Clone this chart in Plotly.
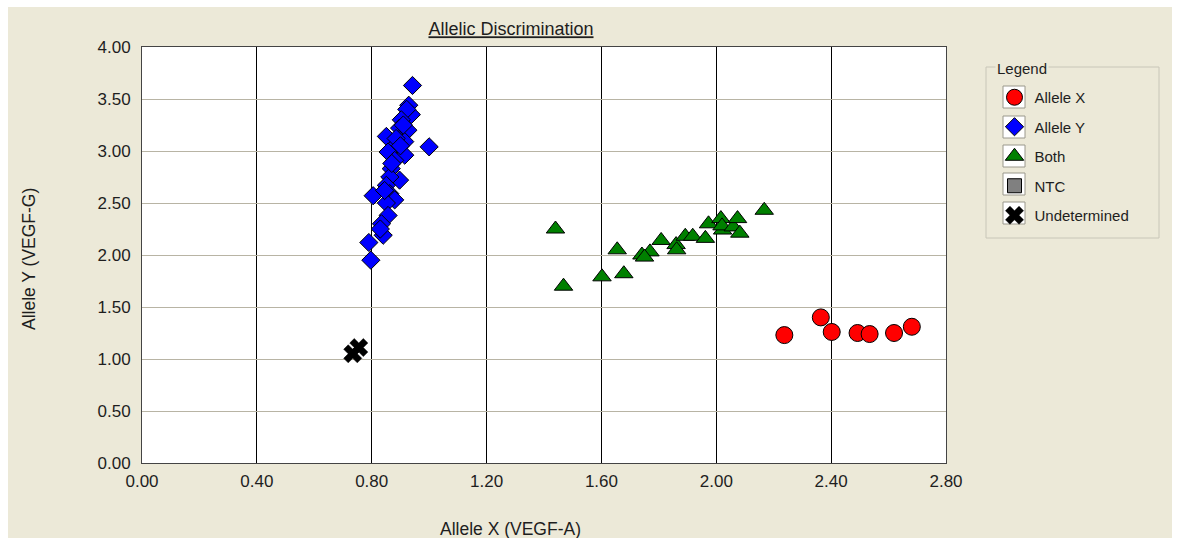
import plotly.graph_objects as go

# ---- data ----
allele_x_x = [2.237, 2.364, 2.402, 2.492, 2.534, 2.619, 2.681]
allele_x_y = [1.23, 1.40, 1.26, 1.25, 1.24, 1.25, 1.31]

allele_y_x = [0.942, 0.929, 0.938, 0.922, 0.903, 0.897, 0.926, 0.851, 0.915, 1.000,
              0.874, 0.857, 0.915, 0.880, 0.868, 0.897, 0.863, 0.851, 0.863, 0.805,
              0.880, 0.851, 0.857, 0.834, 0.840, 0.790, 0.797, 0.910, 0.885, 0.870,
              0.845, 0.900, 0.830]
allele_y_y = [3.63, 3.44, 3.35, 3.40, 3.30, 3.22, 3.20, 3.14, 3.09, 3.04,
              3.03, 2.99, 2.96, 2.91, 2.83, 2.72, 2.75, 2.67, 2.59, 2.57,
              2.53, 2.50, 2.38, 2.30, 2.19, 2.12, 1.95, 3.25, 3.12, 2.88,
              2.62, 3.05, 2.25]

both_x = [1.440, 1.468, 1.602, 1.655, 1.678, 1.741, 1.769, 1.808, 1.860, 1.862,
          1.892, 1.918, 1.962, 1.973, 2.016, 2.022, 2.020, 2.059, 2.074, 2.082,
          2.167, 1.750]
both_y = [2.25, 1.70, 1.79, 2.05, 1.82, 2.00, 2.03, 2.14, 2.10, 2.05,
          2.18, 2.18, 2.16, 2.30, 2.35, 2.24, 2.28, 2.27, 2.35, 2.21,
          2.43, 1.98]

ntc_x = [None]
ntc_y = [None]

undet_x = [0.734, 0.755]
undet_y = [1.05, 1.11]

x_ticks = [0.0, 0.4, 0.8, 1.2, 1.6, 2.0, 2.4, 2.8]
y_ticks = [0.0, 0.5, 1.0, 1.5, 2.0, 2.5, 3.0, 3.5, 4.0]

FONT = "Liberation Sans, Arial, sans-serif"
TXT = "#1e1e1e"
BEIGE = "#ECE9D8"

fig = go.Figure()
line = dict(color="black", width=1)
fig.add_trace(go.Scatter(x=allele_x_x, y=allele_x_y, mode="markers", name="Allele X",
                         legendgroup="a",
                         marker=dict(symbol="circle", size=17, color="#FF0000", line=line)))
fig.add_trace(go.Scatter(x=allele_y_x, y=allele_y_y, mode="markers", name="Allele Y",
                         legendgroup="b",
                         marker=dict(symbol="diamond", size=14, color="#0000FF", line=line)))
fig.add_trace(go.Scatter(x=both_x, y=both_y, mode="markers", name="Both",
                         legendgroup="c",
                         marker=dict(symbol="triangle-up", size=16, color="#008000", line=line)))
fig.add_trace(go.Scatter(x=ntc_x, y=ntc_y, mode="markers", name="NTC",
                         legendgroup="d",
                         marker=dict(symbol="square", size=14, color="#808080", line=line)))
fig.add_trace(go.Scatter(x=undet_x, y=undet_y, mode="markers", name="Undetermined",
                         legendgroup="e",
                         marker=dict(symbol="x", size=16, color="black",
                                     line=dict(color="black", width=0.5))))

# plot geometry in pixels
L, R, T, B = 142, 946, 47, 463
W, H = R - L, B - T

def px2paper_x(px):
    return (px - L) / W

def px2paper_y(py):
    return (B - py) / H

shapes = [
    # beige dialog background
    dict(type="rect", xref="paper", yref="paper", layer="below",
         x0=px2paper_x(8), x1=px2paper_x(1172), y0=px2paper_y(7), y1=px2paper_y(545),
         fillcolor=BEIGE, line=dict(width=0)),
    # white plotting area
    dict(type="rect", xref="paper", yref="paper", layer="below",
         x0=0, x1=1, y0=0, y1=1, fillcolor="white", line=dict(width=0)),
    # legend group box
    dict(type="rect", xref="paper", yref="paper", layer="below",
         x0=px2paper_x(986), x1=px2paper_x(1159), y0=px2paper_y(238), y1=px2paper_y(67),
         fillcolor="rgba(0,0,0,0)", line=dict(color="#C8C6B8", width=1)),
]
# white swatch boxes behind the legend symbols
for cy in [97, 127, 156, 184, 213]:
    shapes.append(dict(type="rect", xref="paper", yref="paper", layer="below",
                       x0=px2paper_x(1003), x1=px2paper_x(1025),
                       y0=px2paper_y(cy + 11), y1=px2paper_y(cy - 11),
                       fillcolor="white", line=dict(color="#9A988C", width=1)))

fig.update_layout(
    width=1186, height=538,
    margin=dict(l=L, r=1186 - R, t=T, b=538 - B, pad=0),
    paper_bgcolor="white",
    plot_bgcolor="white",
    font=dict(family=FONT, size=15, color=TXT),
    title=dict(text="<u>Allelic Discrimination</u>", x=511 / 1186, xref="container",
               xanchor="center", y=1 - 29 / 538, yref="container", yanchor="middle",
               font=dict(family=FONT, size=18, color=TXT)),
    xaxis=dict(range=[0, 2.8], tickvals=x_ticks, tickformat=".2f",
               showgrid=True, gridcolor="black", gridwidth=1,
               showline=True, linecolor="#444444", linewidth=1, mirror=True,
               zeroline=False, ticks="outside", ticklen=3, tickcolor="rgba(0,0,0,0)",
               tickfont=dict(size=17)),
    yaxis=dict(range=[0, 4.0], tickvals=y_ticks, tickformat=".2f",
               showgrid=True, gridcolor="#B8B4A4", gridwidth=1,
               showline=True, linecolor="#444444", linewidth=1, mirror=True,
               zeroline=False, ticks="outside", ticklen=7, tickcolor="rgba(0,0,0,0)",
               tickfont=dict(size=17)),
    legend=dict(x=px2paper_x(994.5), y=px2paper_y(81), xanchor="left", yanchor="top",
                bgcolor="rgba(0,0,0,0)", borderwidth=0, tracegroupgap=7,
                font=dict(family=FONT, size=15, color=TXT), itemsizing="trace"),
    shapes=shapes,
    annotations=[
        dict(text="Allele X (VEGF-A)", xref="paper", yref="paper",
             x=px2paper_x(510), y=px2paper_y(529), xanchor="center", yanchor="middle",
             showarrow=False, font=dict(family=FONT, size=17.5, color=TXT)),
        dict(text="Allele Y (VEGF-G)", xref="paper", yref="paper", textangle=-90,
             x=px2paper_x(29), y=px2paper_y(259), xanchor="center", yanchor="middle",
             showarrow=False, font=dict(family=FONT, size=17.5, color=TXT)),
        dict(text="Legend", xref="paper", yref="paper",
             x=px2paper_x(995), y=px2paper_y(68), xanchor="left", yanchor="middle",
             showarrow=False, bgcolor=BEIGE, borderpad=1,
             font=dict(family=FONT, size=15, color=TXT)),
    ],
)

fig.write_html("out.html")
